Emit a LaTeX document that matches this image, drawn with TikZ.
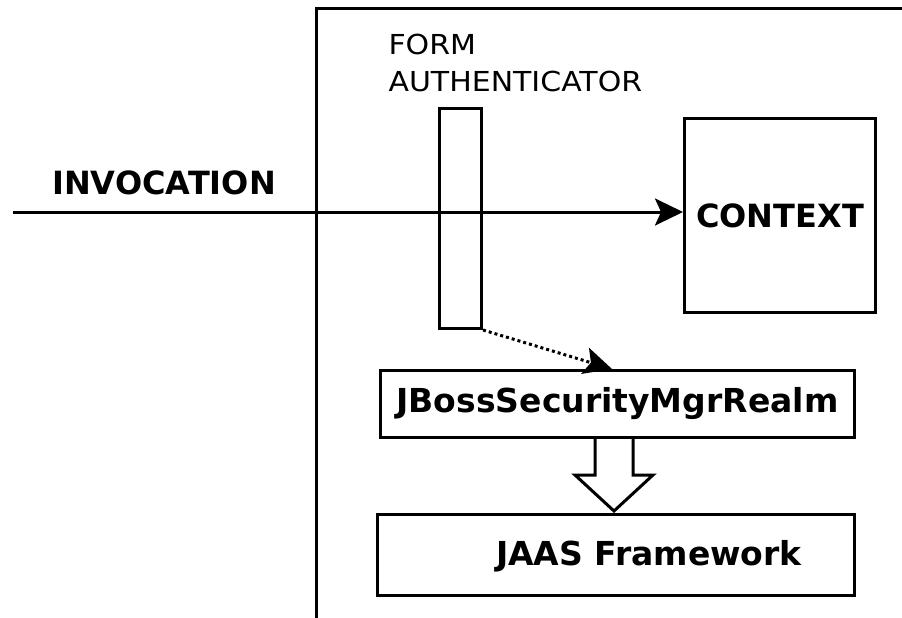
\documentclass[tikz,border=0pt]{standalone}
\usepackage{fontspec}
\setmainfont{DejaVu Sans}
\newfontfamily\formfont[FakeStretch=1.09]{DejaVu Sans}
\usetikzlibrary{arrows.meta,calc}
\begin{document}
\begin{tikzpicture}[x=1pt,y=-1pt,line width=3pt,
  box/.style={draw,line width=3pt,inner sep=0pt,anchor=north west},
  boldtext/.style={font=\bfseries\fontsize{33}{40}\selectfont,inner sep=0pt},
  formtext/.style={font=\formfont\fontsize{27.5}{33}\selectfont,inner sep=0pt,anchor=base west},
  tip/.style={-{Stealth[length=28pt,width=27pt,inset=6pt]}}]
\useasboundingbox (0,0) rectangle (902,618);
% outer container
\draw (902,9) -- (316,9) -- (316,618);
% boxes
\node[box,minimum width=42pt,minimum height=220pt] (auth) at (438,107) {};
\node[box,minimum width=191pt,minimum height=194pt,font=\bfseries\fontsize{32}{38}\selectfont] (context) at (683,117) {CONTEXT};
\node[box,minimum width=474pt,minimum height=67pt,font=\bfseries\fontsize{33}{40}\selectfont] (jb) at (379,369) {JBossSecurityMgrRealm};
\node[box,minimum width=477pt,minimum height=81pt] (jaas) at (376,513) {};
\node[boldtext,anchor=base] (jaastext) at (649,565) {JAAS Framework};
% labels
\node[boldtext,font=\bfseries\fontsize{32}{38}\selectfont,anchor=base] (invtext) at (164,194) {INVOCATION};
\node[formtext] (form1) at (387,55) {FORM};
\node[formtext] (form2) at (387,92) {AUTHENTICATOR};
% invocation arrow
\coordinate (inv) at (13,212);
\draw[tip] (inv) -- (inv -| context.west);
% dotted arrow
\coordinate (dt) at (612,369);
\draw[tip,dash pattern=on 3pt off 3pt] (auth.south east) -- (dt);
% hollow block arrow
\draw[line join=miter] (595,436) -- (595,475) -- (575,475) -- (614,511) -- (653,475) -- (633,475) -- (633,436);
\end{tikzpicture}
\end{document}
